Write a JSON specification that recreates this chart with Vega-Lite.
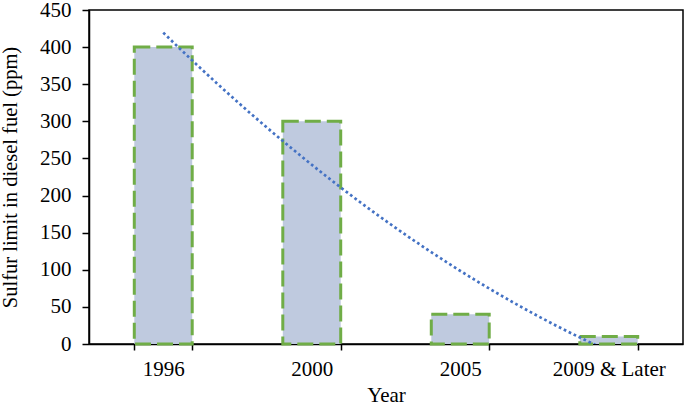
{
  "$schema": "https://vega.github.io/schema/vega-lite/v6.json",
  "width": 594,
  "height": 334,
  "autosize": {"type": "none"},
  "padding": {"left": 89, "top": 10, "right": 2, "bottom": 65},
  "config": {
    "view": {"stroke": "black", "strokeWidth": 1.5},
    "font": "Liberation Serif"
  },
  "data": {
    "values": [
      {"year": "1996", "idx": 1, "value": 400},
      {"year": "2000", "idx": 2, "value": 300},
      {"year": "2005", "idx": 3, "value": 40},
      {"year": "2009 & Later", "idx": 4, "value": 10}
    ]
  },
  "encoding": {
    "y": {
      "field": "value",
      "type": "quantitative",
      "scale": {"domain": [0, 450], "nice": false},
      "axis": {
        "title": "Sulfur limit in diesel fuel (ppm)",
        "values": [0, 50, 100, 150, 200, 250, 300, 350, 400, 450],
        "grid": false,
        "domainColor": "black",
        "domainWidth": 1.5,
        "tickColor": "black",
        "tickWidth": 1.5,
        "tickSize": 7,
        "labelColor": "black",
        "labelFont": "Liberation Serif",
        "labelFontSize": 21,
        "labelPadding": 11,
        "labelOverlap": false,
        "labelFlush": false,
        "titleColor": "black",
        "titleFont": "Liberation Serif",
        "titleFontSize": 20.5,
        "titleFontWeight": "normal",
        "titlePadding": 19
      }
    }
  },
  "layer": [
    {
      "mark": {
        "type": "bar",
        "fill": "#bfcadf",
        "stroke": "#70AD47",
        "strokeWidth": 3,
        "strokeDash": [16, 6]
      },
      "encoding": {
        "x": {
          "field": "year",
          "type": "nominal",
          "sort": null,
          "scale": {"paddingInner": 0.61, "paddingOuter": 0.305},
          "axis": {
            "title": "Year",
            "labelAngle": 0,
            "tickBand": "extent",
            "grid": false,
            "domainColor": "black",
            "domainWidth": 1.5,
            "tickColor": "black",
            "tickWidth": 1.5,
            "tickSize": 6,
            "labelColor": "black",
            "labelFont": "Liberation Serif",
            "labelFontSize": 21,
            "labelPadding": 8,
            "labelOverlap": false,
            "titleColor": "black",
            "titleFont": "Liberation Serif",
            "titleFontSize": 21,
            "titleFontWeight": "normal",
            "titlePadding": 5
          }
        }
      }
    },
    {
      "transform": [
        {"regression": "value", "on": "idx", "method": "poly", "order": 2}
      ],
      "mark": {
        "type": "line",
        "clip": true,
        "stroke": "#4472C4",
        "strokeWidth": 2.7,
        "strokeDash": [2.7, 2.8]
      },
      "encoding": {
        "x": {
          "field": "idx",
          "type": "quantitative",
          "scale": {"domain": [0.5, 4.5], "nice": false, "zero": false},
          "axis": null
        }
      }
    }
  ],
  "resolve": {"scale": {"x": "independent"}}
}
